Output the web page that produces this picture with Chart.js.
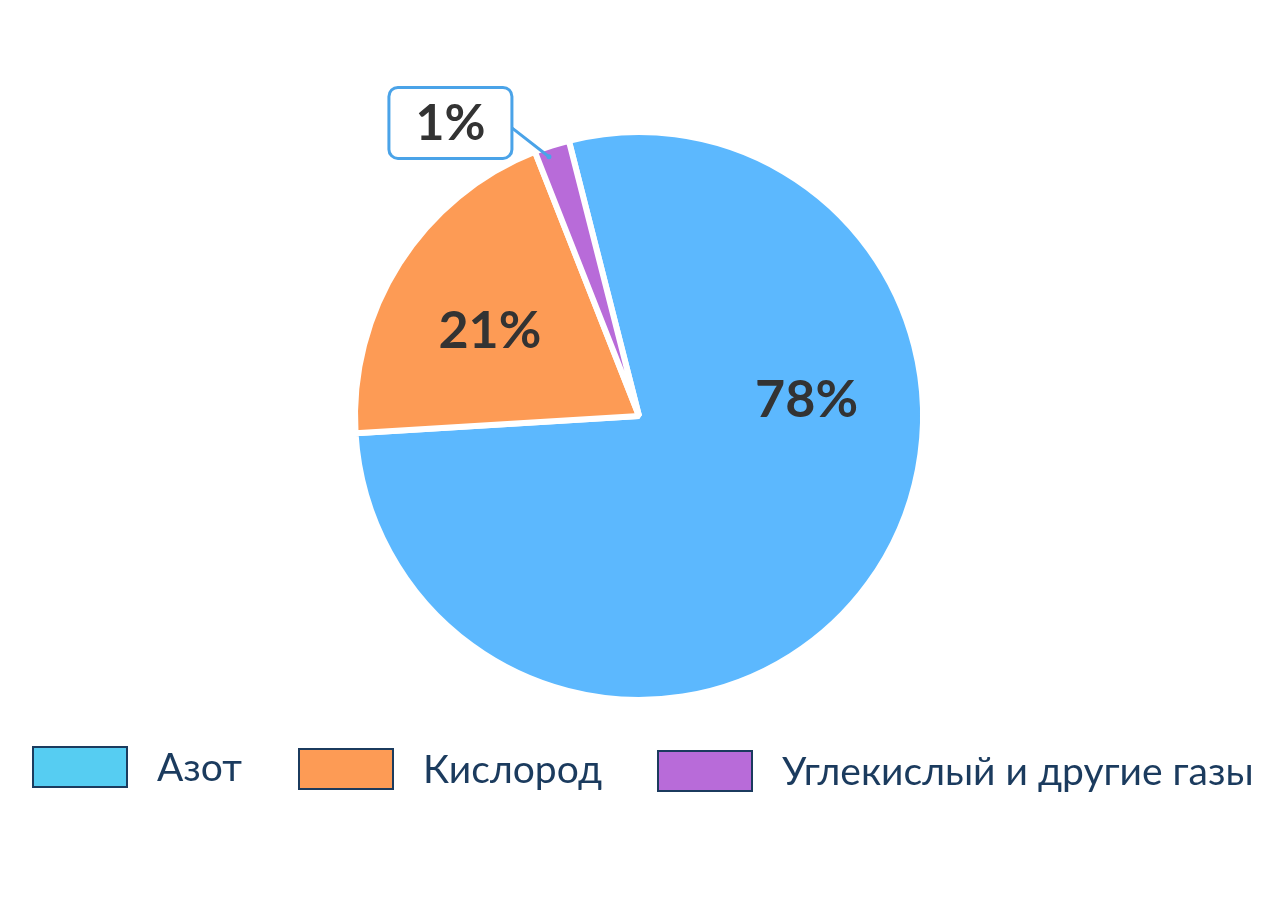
<!DOCTYPE html>
<html>
<head>
<meta charset="utf-8">
<script src="https://cdn.jsdelivr.net/npm/chart.js@4/dist/chart.umd.min.js"></script>
<style>
  html, body { margin: 0; padding: 0; background: #fff; }
  #wrap { width: 1280px; height: 901px; position: relative; }
</style>
</head>
<body>
<div id="wrap"><canvas id="chart"></canvas></div>
<script>
// categories and values (slice sizes as drawn, labels as printed)
const categories = ["Азот", "Кислород", "Углекислый и другие газы"];
const shares = [78, 20, 2];
const labelTexts = ["78%", "21%", "1%"];
const sliceColors = ["#5cb8fe", "#fd9b55", "#b86bd9"];
const legendColors = ["#56cdf2", "#fd9b55", "#b86bd9"];

// draws percent labels, the 1% callout and the bottom legend
const decorPlugin = {
  id: "decor",
  afterDatasetsDraw(chart, args, opts) {
    const ctx = chart.ctx;
    const arc0 = chart.getDatasetMeta(0).data[0];
    const cx = arc0.x, cy = arc0.y, r = arc0.outerRadius;
    ctx.save();
    ctx.font = "bold 52px Lato";
    ctx.fillStyle = "#333333";
    ctx.textAlign = "center";
    ctx.textBaseline = "middle";
    // labels inside the big slices
    ctx.fillText(labelTexts[0], cx + 0.59 * r, cy - 0.055 * r);
    ctx.fillText(labelTexts[1], cx - 0.525 * r, cy - 0.3 * r);

    // callout for the small slice
    const bx = cx - 0.664 * r, by = cy - 1.032 * r;
    const bw = 123, bh = 71;
    const dotX = cx - 0.317 * r, dotY = cy - 0.913 * r;
    ctx.strokeStyle = "#4aa3e8";
    ctx.lineWidth = 3;
    ctx.lineCap = "round";
    ctx.beginPath();
    ctx.moveTo(bx + bw / 2, by + 5);
    ctx.lineTo(dotX, dotY);
    ctx.stroke();
    ctx.fillStyle = "#4aa3e8";
    ctx.beginPath();
    ctx.arc(dotX, dotY, 2.5, 0, Math.PI * 2);
    ctx.fill();
    ctx.fillStyle = "#fff";
    ctx.beginPath();
    ctx.roundRect(bx - bw / 2, by - bh / 2, bw, bh, 9);
    ctx.fill();
    ctx.stroke();
    ctx.fillStyle = "#333333";
    ctx.font = "bold 50px Lato";
    ctx.fillText(labelTexts[2], bx, by + 1);

    // legend
    const boxX = [33, 299, 658];
    const boxY = [747, 749, 751];
    ctx.font = "39px Lato";
    ctx.textAlign = "left";
    for (let i = 0; i < categories.length; i++) {
      ctx.fillStyle = legendColors[i];
      ctx.fillRect(boxX[i], boxY[i], 94, 40);
      ctx.strokeStyle = "#1b3b5e";
      ctx.lineWidth = 2;
      ctx.strokeRect(boxX[i], boxY[i], 94, 40);
      ctx.fillStyle = "#1b3b5e";
      ctx.fillText(categories[i], boxX[i] + 124, boxY[i] + 21);
    }
    ctx.restore();
  },
};

const ctx = document.getElementById("chart").getContext("2d");
const chart = new Chart(ctx, {
  type: "pie",
  data: {
    labels: categories,
    datasets: [
      {
        data: shares,
        backgroundColor: sliceColors,
        borderColor: "#ffffff",
        borderWidth: 6,
      },
    ],
  },
  options: {
    responsive: true,
    maintainAspectRatio: false,
    rotation: -14.3,
    layout: {
      padding: { top: 129, bottom: 198, left: 0, right: 2 },
    },
    plugins: {
      legend: { display: false },
      tooltip: { enabled: false },
    },
    animation: false,
  },
  plugins: [decorPlugin],
});
</script>
</body>
</html>
